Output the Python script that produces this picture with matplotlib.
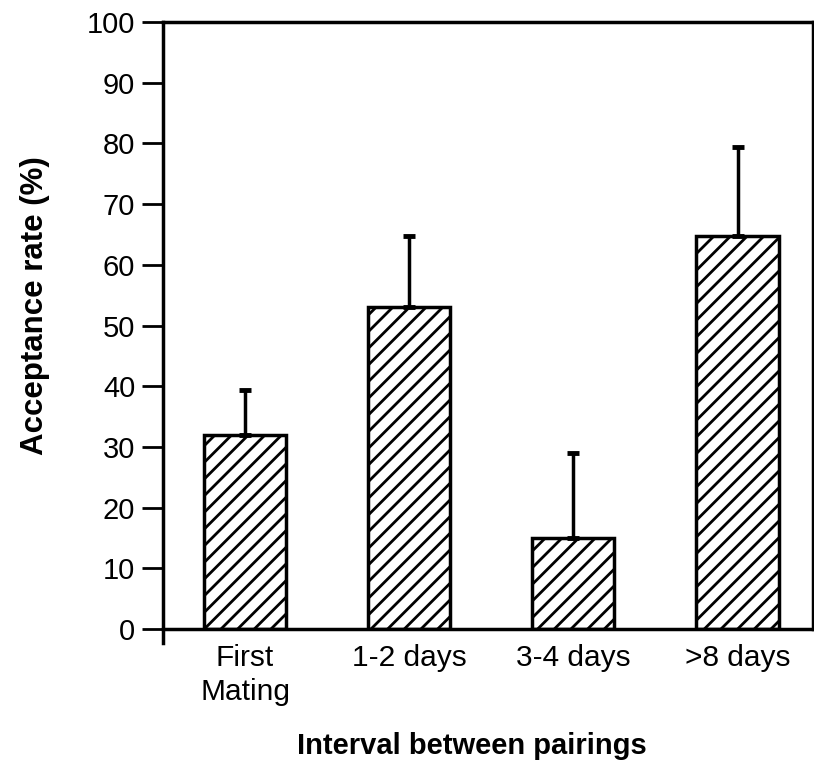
import matplotlib.pyplot as plt
import numpy as np

plt.rcParams['font.family'] = ['Liberation Sans', 'DejaVu Sans']
plt.rcParams['hatch.linewidth'] = 2.0

categories = ['First\nMating', '1-2 days', '3-4 days', '>8 days']
rates = [32, 53, 15, 64.7]
errors = [7.4, 11.7, 14, 14.7]
yticks = [0, 10, 20, 30, 40, 50, 60, 70, 80, 90, 100]

fig = plt.figure(figsize=(8.14, 7.73), dpi=100)
ax = fig.add_axes([0.2002, 0.1863, 0.7986, 0.7852])

x = np.arange(len(categories))
ax.bar(x, rates, width=0.5, color='white', edgecolor='black', linewidth=2.5, hatch='//', zorder=2)
ax.errorbar(x, rates, yerr=[np.zeros(len(errors)), errors], fmt='none', ecolor='black',
            elinewidth=2.5, capsize=4, capthick=3.5, zorder=3)

ax.set_xlim(-0.5, 3.46)
ax.set_ylim(0, 100)
ax.set_yticks(yticks)
ax.set_xticks(x)
ax.set_xticklabels(categories, fontsize=21.5, linespacing=1.25)
ax.tick_params(axis='x', length=0, pad=11)
ax.tick_params(axis='y', direction='out', length=15, width=2, labelsize=21, pad=5)

for s in ax.spines.values():
    s.set_linewidth(2.5)
ax.spines['left'].set_bounds(-2.3, 100)

ax.set_ylabel('Acceptance rate (%)', fontsize=22.5, fontweight='bold')
ax.yaxis.set_label_coords(-0.174, 0.532)
ax.set_xlabel('Interval between pairings', fontsize=21, fontweight='bold')
ax.xaxis.set_label_coords(0.475, -0.170)

plt.savefig('out.png', dpi=100)
